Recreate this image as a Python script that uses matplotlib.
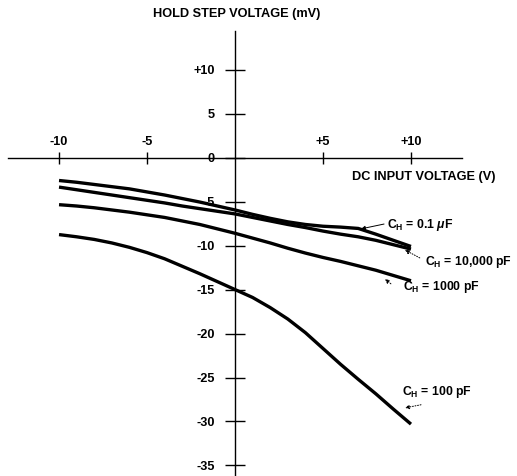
import matplotlib
matplotlib.use("Agg")
import matplotlib.pyplot as plt

plt.rcParams['font.family'] = ['Liberation Sans', 'DejaVu Sans']
plt.rcParams['font.weight'] = 'bold'
plt.rcParams['mathtext.fontset'] = 'custom'
plt.rcParams['mathtext.rm'] = 'Liberation Sans:bold'
plt.rcParams['mathtext.it'] = 'Liberation Sans:bold:italic'
plt.rcParams['mathtext.bf'] = 'Liberation Sans:bold'
plt.rcParams['mathtext.sf'] = 'Liberation Sans:bold'

# ---- data ----
x_vin = [-10, -9, -8, -7, -6, -5, -4, -3, -2, -1, 0, 1, 2, 3, 4, 5, 6, 7, 8, 9, 10]
c_01uF = [-2.6, -2.8, -3.05, -3.3, -3.55, -3.9, -4.25, -4.65, -5.05, -5.5, -5.95,
          -6.45, -6.9, -7.3, -7.6, -7.8, -7.9, -8.05, -8.7, -9.4, -10.1]
c_10000pF = [-3.35, -3.65, -3.95, -4.25, -4.55, -4.85, -5.15, -5.5, -5.8, -6.1, -6.4,
             -6.8, -7.2, -7.6, -7.95, -8.35, -8.7, -9.0, -9.4, -9.9, -10.4]
c_1000pF = [-5.35, -5.5, -5.7, -5.95, -6.2, -6.5, -6.8, -7.2, -7.6, -8.1, -8.6,
            -9.15, -9.7, -10.3, -10.85, -11.35, -11.8, -12.3, -12.8, -13.4, -14.0]
c_100pF = [-8.75, -9.0, -9.3, -9.7, -10.2, -10.8, -11.5, -12.35, -13.2, -14.1, -15.0,
           -15.9, -17.05, -18.35, -19.9, -21.7, -23.5, -25.2, -26.85, -28.6, -30.3]

x_ticks = [-10, -5, 5, 10]
x_ticklabels = ['-10', '-5', '+5', '+10']
y_ticks = [10, 5, 0, -5, -10, -15, -20, -25, -30, -35]
y_ticklabels = ['+10', '5', '0', '-5', '-10', '-15', '-20', '-25', '-30', '-35']

FS = 9.2

W, H = 517, 476
fig = plt.figure(figsize=(W / 100, H / 100), dpi=100)
ax_l, ax_r, ax_t, ax_b = 8, 462, 31, 476
ax = fig.add_axes([ax_l / W, 1 - ax_b / H, (ax_r - ax_l) / W, (ax_b - ax_t) / H])
ax.set_xlim(-12.9, 12.9)
ax.set_ylim(-36.2, 14.4)

for ys in (c_01uF, c_10000pF, c_1000pF, c_100pF):
    ax.plot(x_vin, ys, color='black', lw=2.4, solid_capstyle='butt', solid_joinstyle='round')

ax.spines['right'].set_visible(False)
ax.spines['bottom'].set_visible(False)
ax.spines['top'].set_position(('data', 0))
ax.spines['left'].set_position(('data', 0))
for s in ('top', 'left'):
    ax.spines[s].set_linewidth(1.0)

ax.xaxis.set_ticks_position('top')
ax.yaxis.set_ticks_position('left')
ax.set_xticks(x_ticks)
ax.set_xticklabels(x_ticklabels)
ax.set_yticks(y_ticks)
ax.set_yticklabels(y_ticklabels)
ax.tick_params(axis='x', direction='inout', length=8.6, width=1.0, pad=3.0, labelsize=FS)
ax.tick_params(axis='y', direction='inout', length=15, width=1.0, pad=7, labelsize=FS)
ax.patch.set_visible(False)

fig.text(237 / W, 1 - 14 / H, 'HOLD STEP VOLTAGE (mV)', ha='center', va='center',
         fontsize=FS, fontweight='bold')
ax.text(6.65, -2.2, 'DC INPUT VOLTAGE (V)', ha='left', va='center', fontsize=FS, fontweight='bold')

labels = [
    (r'C$_{\mathrm{H}}$ = 0.1 $\mu$F', (8.64, -7.65), (8.47, -7.55), (7.16, -8.1), '-'),
    (r'C$_{\mathrm{H}}$ = 10,000 pF', (10.8, -11.85), (10.5, -11.4), (9.66, -10.5), ':'),
    (r'C$_{\mathrm{H}}$ = 1000 pF', (9.55, -14.7), (8.86, -14.35), (8.52, -13.8), ':'),
    (r'C$_{\mathrm{H}}$ = 100 pF', (9.49, -26.7), (10.57, -28.1), (9.66, -28.45), ':'),
]
for txt, pos, a_from, a_to, ls in labels:
    ax.text(pos[0], pos[1], txt, ha='left', va='center', fontsize=8.8, fontweight='bold', clip_on=False)
    ax.annotate('', xy=a_to, xytext=a_from,
                arrowprops=dict(arrowstyle='-|>', lw=0.7, linestyle=ls, color='black',
                                mutation_scale=6, shrinkA=0, shrinkB=0),
                annotation_clip=False)

fig.savefig('out.png', dpi=100)
